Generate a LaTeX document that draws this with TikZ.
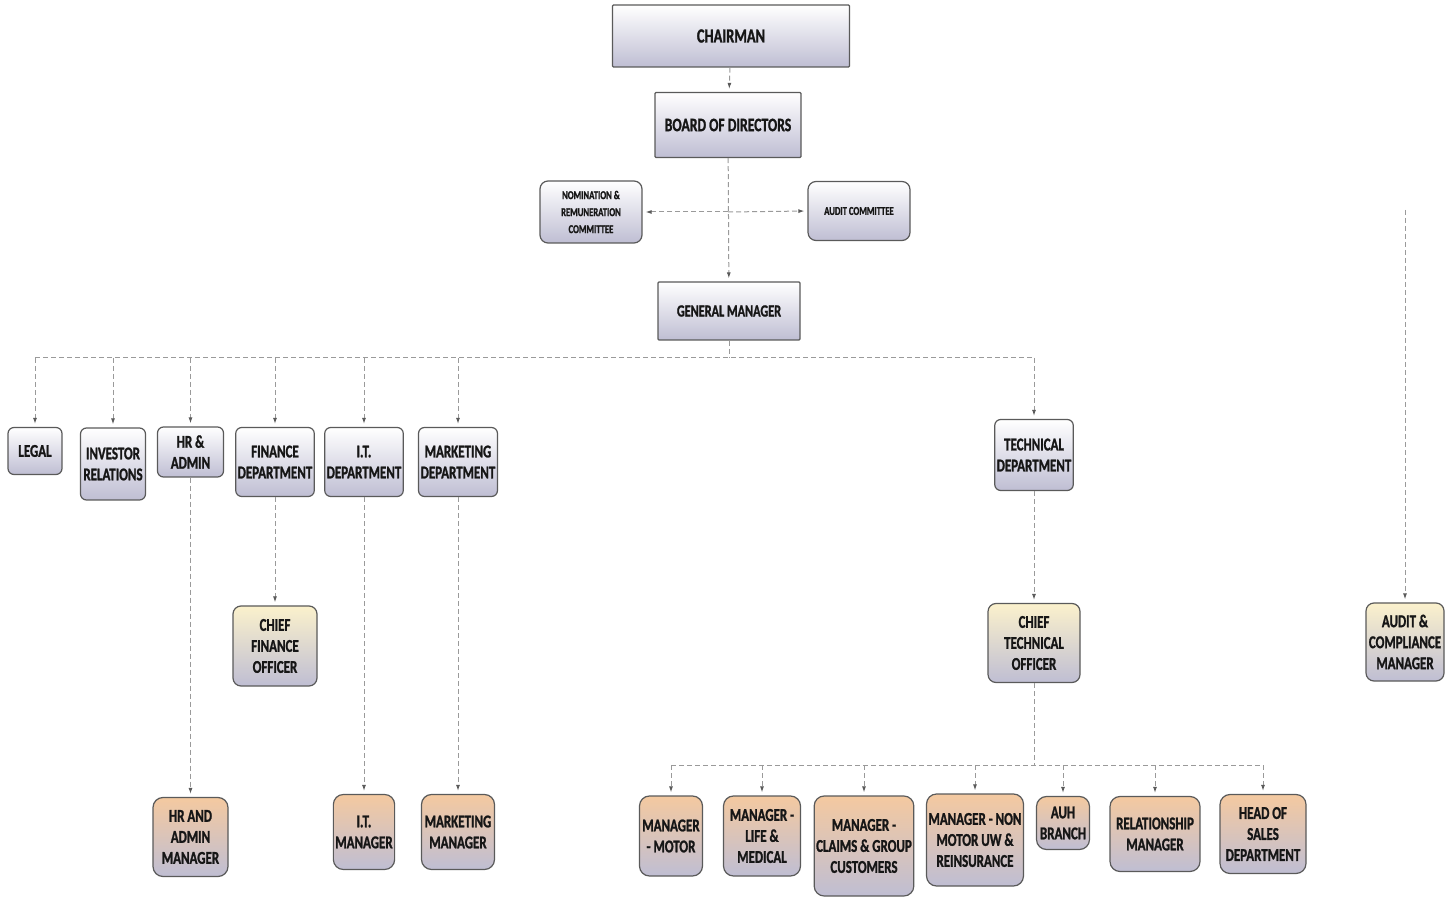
\documentclass[tikz,border=0pt]{standalone}
\usepackage{fontspec}
\newfontfamily\orgfont{Carlito}[UprightFont=* Bold, FakeStretch=0.72, FakeBold=1.2]
\usetikzlibrary{positioning,arrows.meta}
\definecolor{lav1}{HTML}{BFBED3}
\definecolor{peach1}{HTML}{F4C9A0}
\definecolor{cream1}{HTML}{FBF1CC}
\definecolor{edge1}{HTML}{5A5A5A}
\definecolor{link1}{HTML}{9A9A9A}
\definecolor{ink1}{HTML}{161616}

\begin{document}
\begin{tikzpicture}[
    x=0.5pt, y=-0.5pt,
    box/.style={draw=edge1, line width=0.6pt, rounded corners=3pt,
                inner sep=1pt, align=center, text=ink1,
                font=\orgfont\fontsize{9}{10.5}\selectfont,
                top color=white, bottom color=lav1},
    headbox/.style={box, rounded corners=0.5pt},
    cmtbox/.style={box, rounded corners=4pt,
                   font=\orgfont\fontsize{6}{8.5}\selectfont},
    chiefbox/.style={box, rounded corners=4pt, top color=cream1},
    mgrbox/.style={box, rounded corners=5pt, top color=peach1},
    line/.style={draw=link1, line width=0.5pt, dash pattern=on 2.5pt off 1.5pt},
    link/.style={line, shorten >=1.5pt,
                 -{Latex[length=3pt, width=2pt, color=edge1]}},
]
\useasboundingbox (0,0) rectangle (1456,897);

% top of the chart
\node[headbox, minimum width=118.5pt, minimum height=31pt,
      font=\orgfont\fontsize{10}{12}\selectfont] (chair) at (731,36) {CHAIRMAN};
\node[headbox, minimum width=73pt, minimum height=32.5pt,
      font=\orgfont\fontsize{9.5}{11}\selectfont] (board) at (728,125) {BOARD OF DIRECTORS};
\node[cmtbox, minimum width=51pt, minimum height=31pt] (nomc) at (591,212)
    {NOMINATION \&\\REMUNERATION\\COMMITTEE};
\node[cmtbox, minimum width=51pt, minimum height=29.5pt] (auditc) at (859,211)
    {AUDIT COMMITTEE};
\node[headbox, minimum width=71pt, minimum height=29pt,
      font=\orgfont\fontsize{8.5}{10}\selectfont] (gm) at (729,311) {GENERAL MANAGER};

% departments
\node[box, minimum width=27pt, minimum height=23.5pt] (legal) at (35,451) {LEGAL};
\node[box, minimum width=32.5pt, minimum height=36pt] (investor) at (113,464) {INVESTOR\\RELATIONS};
\node[box, minimum width=33pt, minimum height=25pt] (hradmin) at (190.5,452) {HR \&\\ADMIN};
\node[box, minimum width=39pt, minimum height=34.5pt] (finance) at (275,462) {FINANCE\\DEPARTMENT};
\node[box, minimum width=38pt, minimum height=34.5pt] (itdept) at (364,462) {I.T.\\DEPARTMENT};
\node[box, minimum width=39.5pt, minimum height=34.5pt] (mktdept) at (458,462) {MARKETING\\DEPARTMENT};
\node[box, minimum width=38.5pt, minimum height=35.5pt] (tech) at (1034,455) {TECHNICAL\\DEPARTMENT};

% chiefs
\node[chiefbox, minimum width=42pt, minimum height=40pt] (cfo) at (275,646) {CHIEF\\FINANCE\\OFFICER};
\node[chiefbox, minimum width=46pt, minimum height=39.5pt] (cto) at (1034,643) {CHIEF\\TECHNICAL\\OFFICER};
\node[chiefbox, minimum width=39pt, minimum height=39pt] (auditmgr) at (1405,642) {AUDIT \&\\COMPLIANCE\\MANAGER};

% managers
\node[mgrbox, minimum width=37.5pt, minimum height=39.5pt] (hrmgr) at (190.5,837) {HR AND\\ADMIN\\MANAGER};
\node[mgrbox, minimum width=30pt, minimum height=37.5pt] (itmgr) at (364,832) {I.T.\\MANAGER};
\node[mgrbox, minimum width=36.5pt, minimum height=37.5pt] (mktmgr) at (458,832) {MARKETING\\MANAGER};
\node[mgrbox, minimum width=31.5pt, minimum height=40pt] (motor) at (671,836) {MANAGER\\- MOTOR};
\node[mgrbox, minimum width=38.5pt, minimum height=40pt] (life) at (762,836) {MANAGER -\\LIFE \&\\MEDICAL};
\node[mgrbox, minimum width=48.5pt, minimum height=50pt] (claims) at (864,846) {MANAGER -\\CLAIMS \& GROUP\\CUSTOMERS};
\node[mgrbox, minimum width=46.5pt, minimum height=46pt] (nonmotor) at (975,840) {MANAGER - NON\\MOTOR UW \&\\REINSURANCE};
\node[mgrbox, minimum width=26.5pt, minimum height=26.5pt] (auh) at (1063,823) {AUH\\BRANCH};
\node[mgrbox, minimum width=45pt, minimum height=37.5pt] (relmgr) at (1155,834) {RELATIONSHIP\\MANAGER};
\node[mgrbox, minimum width=43pt, minimum height=39.5pt] (headsales) at (1263,834) {HEAD OF\\SALES\\DEPARTMENT};

% connectors
\draw[link] (chair) -- (board);
\draw[link] (board) -- (gm);
\coordinate (cmt) at (board.south |- nomc.east);
\draw[link] (cmt) -- (nomc.east);
\draw[link] (cmt) -- (auditc.west);
\coordinate (audtop) at (1405,210);
\draw[link] (audtop) -- (auditmgr);

\coordinate (bus1) at (729,358);
\draw[line] (gm) -- (bus1);
\draw[line] (bus1 -| legal) -- (bus1 -| tech);
\foreach \d in {legal,investor,hradmin,finance,itdept,mktdept,tech}
    \draw[link] (bus1 -| \d) -- (\d);

\draw[link] (hradmin) -- (hrmgr);
\draw[link] (finance) -- (cfo);
\draw[link] (itdept) -- (itmgr);
\draw[link] (mktdept) -- (mktmgr);
\draw[link] (tech) -- (cto);

\coordinate (bus2) at (1034,765);
\draw[line] (cto) -- (bus2);
\draw[line] (bus2 -| motor) -- (bus2 -| headsales);
\foreach \m in {motor,life,claims,nonmotor,auh,relmgr,headsales}
    \draw[link] (bus2 -| \m) -- (\m);
\end{tikzpicture}
\end{document}
